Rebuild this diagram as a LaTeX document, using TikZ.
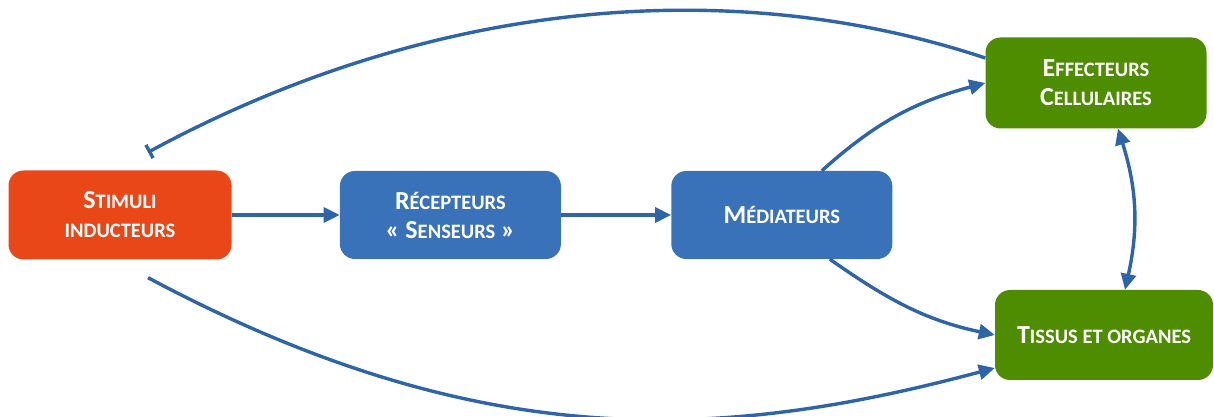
\documentclass[tikz,border=0pt]{standalone}
\usepackage{fontspec}
\setmainfont{Carlito}
\usepackage{tikz}
\usetikzlibrary{calc}
\usetikzlibrary{positioning}
\usetikzlibrary{arrows.meta}
\definecolor{stimorange}{RGB}{233,71,24}
\definecolor{boxblue}{RGB}{58,114,186}
\definecolor{boxgreen}{RGB}{78,140,0}
\definecolor{arrowblue}{RGB}{46,100,168}
\newcommand{\petitcap}[1]{{\fontsize{20.5}{29}\selectfont\MakeUppercase{#1}}}
\tikzset{
    basebox/.style={
        rounded corners=15pt,
        text=white,
        align=center,
        inner sep=0pt,
        font=\bfseries\fontsize{26}{29}\selectfont
    },
    orangebox/.style={basebox, fill=stimorange, minimum width=223pt, minimum height=89pt},
    bluebox/.style={basebox, fill=boxblue, minimum width=221pt, minimum height=88pt},
    greenbox/.style={basebox, fill=boxgreen, minimum width=221pt, minimum height=91pt},
    % fleche bleue principale
    bluearrow/.style={
        line width=3.4pt,
        arrowblue,
        -{Triangle[length=16pt, width=15pt]}
    },
    bluebiarrow/.style={
        line width=3.4pt,
        arrowblue,
        {Triangle[length=16pt, width=15pt]}-{Triangle[length=16pt, width=15pt]}
    },
    blueinhib/.style={
        line width=3.4pt,
        arrowblue,
        -{Bar[width=15pt]}
    }
}
\begin{document}
\begin{tikzpicture}[x=1pt,y=1pt]
    \useasboundingbox (0,0) rectangle (1214,417);

    \node[orangebox] (stim) at (120,202) {S\petitcap{timuli}\\\petitcap{inducteurs}};
    \node[bluebox, right=108pt of stim] (rec) {R\petitcap{écepteurs}\\« S\petitcap{enseurs} »};
    \node[bluebox, right=110pt of rec] (med) {M\petitcap{édiateurs}};
    \node[greenbox] (eff) at (1096,334) {E\petitcap{ffecteurs}\\C\petitcap{ellulaires}};
    \node[greenbox, minimum width=218pt, minimum height=90pt] (tis) at (1104,82) {T\petitcap{issus et organes}};

    \coordinate (inh) at ($(stim.north)+(28,18)$);
    \coordinate (bas) at ($(stim.south)+(28,-18)$);

    \draw[bluearrow] (stim) -- (rec);
    \draw[bluearrow] (rec) -- (med);
    \draw[bluearrow] ([xshift=40pt]med.north) to[out=42, in=195] (eff.west);
    \draw[bluearrow] ([xshift=48pt]med.south) to[out=-35, in=168] (tis.west);
    \draw[bluebiarrow] ([xshift=22pt]eff.south) to[bend left=15] ([xshift=21pt]tis.north);

    \draw[blueinhib] ([yshift=25pt]eff.west) .. controls (720,447) and (420,412) .. (inh);
    \draw[bluearrow] (bas) .. controls (484,-40) and (725,-23) .. ([yshift=-33pt]tis.west);
\end{tikzpicture}
\end{document}
